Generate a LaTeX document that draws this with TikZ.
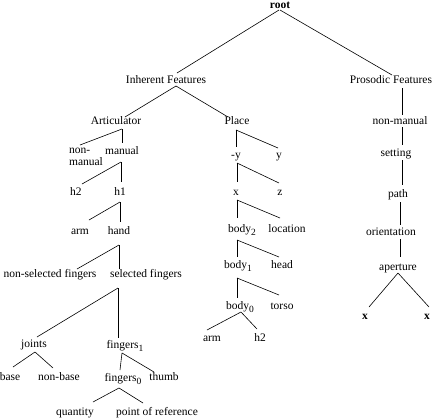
\documentclass[tikz,border=0pt]{standalone}
\usepackage{fontspec}
\setmainfont{Liberation Serif}
\usetikzlibrary{calc}
\newcommand\sbs[1]{\raisebox{-3.5pt}{\fontsize{9.5}{9.5}\selectfont #1}}
\newcommand\lnk[6]{\draw[edge] ($(#1)+(#2,#3)$) -- ($(#4)+(#5,#6)$);}
\begin{document}
\begin{tikzpicture}[x=1pt,y=-1pt,
  lbl/.style={inner sep=0pt, text height=6pt, text depth=0pt, font=\fontsize{11.5}{13}\selectfont},
  lbl2/.style={inner sep=0pt, align=left, font=\fontsize{11.5}{12}\selectfont},
  edge/.style={line width=0.6pt, black}]
\useasboundingbox (0,0) rectangle (432,418);
% nodes
\node[lbl] (root) at (280,5) {\textbf{root}};
\node[lbl] (inh) at (166,80) {Inherent Features};
\node[lbl] (pro) at (391,80) {Prosodic Features};
\node[lbl] (art) at (116,121) {Articulator};
\node[lbl] (place) at (237,121) {Place};
\node[lbl] (pnm) at (400,121) {non-manual};
\node[lbl2] (nonman) at (86,157) {non-\\manual};
\node[lbl] (manual) at (122,151) {manual};
\node[lbl] (h2) at (76,192) {h2};
\node[lbl] (h1) at (120,192) {h1};
\node[lbl] (arm) at (80,231) {arm};
\node[lbl] (hand) at (119,231) {hand};
\node[lbl] (nsf) at (50,274) {non-selected fingers};
\node[lbl] (sf) at (146,274) {selected fingers};
\node[lbl] (joints) at (34,344) {joints};
\node[lbl] (f1) at (125,345) {fingers\sbs{1}};
\node[lbl] (base) at (10,377) {base};
\node[lbl] (nonbase) at (59,377) {non-base};
\node[lbl] (f0) at (123,378) {fingers\sbs{0}};
\node[lbl] (thumb) at (164,377) {thumb};
\node[lbl] (quantity) at (75,412) {quantity};
\node[lbl] (por) at (157,412) {point of reference};
\node[lbl] (my) at (236,155) {-y};
\node[lbl] (y) at (279,155) {y};
\node[lbl] (x) at (236,192) {x};
\node[lbl] (z) at (280,192) {z};
\node[lbl] (b2) at (242,229) {body\sbs{2}};
\node[lbl] (loc) at (287,229) {location};
\node[lbl] (b1) at (238,265) {body\sbs{1}};
\node[lbl] (head) at (282,265) {head};
\node[lbl] (b0) at (240,306) {body\sbs{0}};
\node[lbl] (torso) at (282,306) {torso};
\node[lbl] (parm) at (212,338) {arm};
\node[lbl] (ph2) at (260,338) {h2};
\node[lbl] (setting) at (396,153) {setting};
\node[lbl] (path) at (398,194) {path};
\node[lbl] (orient) at (391,232) {orientation};
\node[lbl] (aperture) at (398,267) {aperture};
\node[lbl] (xa) at (365,316) {\textbf{x}};
\node[lbl] (xb) at (427,316) {\textbf{x}};
% connectors
\lnk{root}{-1}{5}{inh}{11}{-7}
\lnk{root}{0}{5}{pro}{1}{-5}
\lnk{inh}{10}{6}{art}{9}{-4}
\lnk{inh}{10}{6}{place}{-9}{-4}
\lnk{art}{6}{8}{nonman}{-6}{-12}
\lnk{art}{6}{8}{manual}{0}{-8}
\lnk{manual}{-1}{11}{h2}{6}{-8}
\lnk{manual}{-1}{11}{h1}{1}{-10}
\lnk{h1}{0}{10}{arm}{9}{-11}
\lnk{h1}{0}{10}{hand}{1}{-9}
\lnk{hand}{0}{14}{nsf}{27}{-5}
\lnk{hand}{0}{14}{sf}{-27}{-5}
\lnk{sf}{-28}{14}{joints}{3}{-7}
\lnk{sf}{-28}{14}{f1}{-7}{-7}
\lnk{joints}{1}{8}{base}{3}{-10}
\lnk{joints}{1}{8}{nonbase}{-6}{-9}
\lnk{f1}{-3}{8}{f0}{-3}{-8}
\lnk{f1}{-3}{8}{thumb}{-10}{-5}
\lnk{f0}{-4}{10}{quantity}{18}{-10}
\lnk{f0}{-4}{10}{por}{-14}{-9}
\lnk{place}{-1}{9}{my}{0}{-8}
\lnk{place}{-1}{9}{y}{-1}{-7}
\lnk{my}{1}{8}{x}{1}{-10}
\lnk{my}{1}{8}{z}{-1}{-9}
\lnk{x}{1}{8}{b2}{-5}{-11}
\lnk{x}{1}{8}{loc}{-7}{-11}
\lnk{b2}{-5}{11}{b1}{-1}{-8}
\lnk{b2}{-5}{11}{head}{-3}{-8}
\lnk{b1}{-1}{13}{b0}{-3}{-8}
\lnk{b1}{-1}{13}{torso}{-3}{-11}
\lnk{b0}{1}{6}{parm}{-5}{-8}
\lnk{b0}{1}{6}{ph2}{-3}{-9}
\lnk{pro}{11}{8}{pnm}{2}{-6}
\lnk{pnm}{2}{6}{setting}{6}{-8}
\lnk{setting}{6}{7}{path}{4}{-9}
\lnk{path}{2}{8}{orient}{9}{-7}
\lnk{orient}{9}{7}{aperture}{2}{-10}
\lnk{aperture}{0}{6}{xa}{4}{-9}
\lnk{aperture}{0}{6}{xb}{2}{-9}
\end{tikzpicture}
\end{document}
